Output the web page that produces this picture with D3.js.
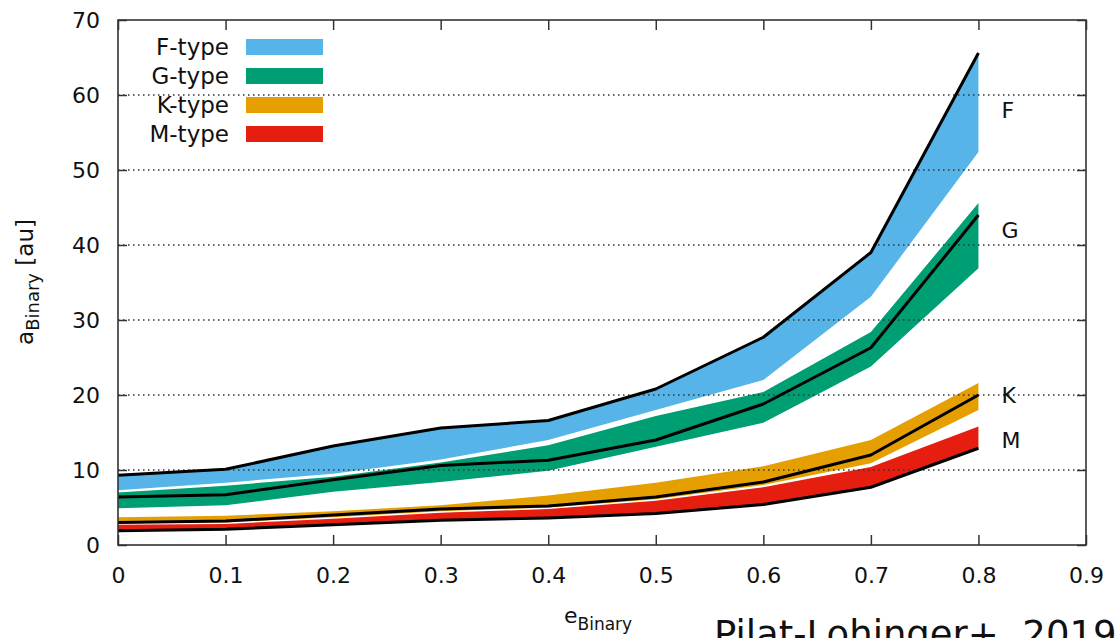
<!DOCTYPE html>
<html>
<head>
<meta charset="utf-8">
<title>a_Binary vs e_Binary</title>
<script src="https://d3js.org/d3.v7.min.js"></script>
<style>
  body { margin: 0; background: #fff; }
  text { font-family: "DejaVu Sans", sans-serif; fill: #111; }
</style>
</head>
<body>
<div id="chart"></div>
<script>
// eccentricity grid
const ecc = [0, 0.1, 0.2, 0.3, 0.4, 0.5, 0.6, 0.7, 0.8];

// bands (lower / upper) and black curve for each spectral type
const fLow  = [7.3, 8.3, 9.5, 11.4, 14.0, 18.0, 22.0, 33.1, 52.4];
const fHigh = [9.3, 10.1, 13.2, 15.6, 16.6, 20.8, 27.7, 39.0, 65.6];
const fLine = fHigh;

const gLow  = [4.9, 5.3, 7.1, 8.4, 9.9, 13.1, 16.3, 23.8, 36.9];
const gHigh = [7.0, 7.9, 9.1, 11.0, 13.3, 17.2, 20.4, 28.4, 45.6];
const gLine = [6.4, 6.7, 8.7, 10.6, 11.3, 14.0, 18.8, 26.3, 44.0];

const kLow  = [2.9, 3.0, 3.7, 4.5, 5.0, 6.1, 8.0, 10.9, 18.0];
const kHigh = [3.7, 3.9, 4.5, 5.3, 6.6, 8.3, 10.5, 14.0, 21.6];
const kLine = [3.0, 3.2, 4.0, 4.8, 5.2, 6.4, 8.4, 12.0, 20.0];

const mLow  = [1.9, 2.1, 2.7, 3.3, 3.6, 4.2, 5.4, 7.7, 12.9];
const mHigh = [2.7, 2.8, 3.5, 4.3, 4.8, 5.9, 7.7, 10.4, 15.8];
const mLine = mLow;

const typeNames = ["F-type", "G-type", "K-type", "M-type"];
const endLabels = ["F", "G", "K", "M"];
const endLabelY = [58, 42, 19.9, 14];
const colors = ["#56b4e9", "#009e73", "#e69f00", "#e51e10"];

const xTicks = [0, 0.1, 0.2, 0.3, 0.4, 0.5, 0.6, 0.7, 0.8, 0.9];
const yTicks = [0, 10, 20, 30, 40, 50, 60, 70];

const types = [
  {low: fLow, high: fHigh, line: fLine},
  {low: gLow, high: gHigh, line: gLine},
  {low: kLow, high: kHigh, line: kLine},
  {low: mLow, high: mHigh, line: mLine}
];

let margin = {top: 20, right: 29, bottom: 93, left: 118};
let w = 1115 - margin.left - margin.right;
let h = 638 - margin.top - margin.bottom;

let root = d3.select("#chart").append("svg")
    .attr("width", 1115)
    .attr("height", 638);
let svg = root.append("g")
    .attr("transform", "translate(" + margin.left + "," + margin.top + ")");

let x = d3.scaleLinear().domain([0, 0.9]).range([0, w]);
let y = d3.scaleLinear().domain([0, 70]).range([h, 0]);

// bands
let area = d3.area()
    .x((d, i) => x(ecc[i]))
    .y0(d => y(d[0]))
    .y1(d => y(d[1]));

types.forEach((t, k) => {
  svg.append("path")
      .datum(t.low.map((v, i) => [v, t.high[i]]))
      .attr("d", area)
      .attr("fill", colors[k]);
});

// dotted grid
svg.append("g")
  .selectAll("line")
  .data(yTicks.filter(v => v > 0 && v < 70))
  .join("line")
    .attr("x1", 0).attr("x2", w)
    .attr("y1", d => y(d)).attr("y2", d => y(d))
    .attr("stroke", "#333")
    .attr("stroke-width", 1.5)
    .attr("stroke-dasharray", "1.5,3.5");

// black curves
let line = d3.line().x((d, i) => x(ecc[i])).y(d => y(d));
types.forEach(t => {
  svg.append("path")
      .datum(t.line)
      .attr("d", line)
      .attr("fill", "none")
      .attr("stroke", "#000")
      .attr("stroke-width", 3)
      .attr("stroke-linejoin", "round");
});

// axes with inward ticks, mirrored on top/right
let fmtX = d => d === 0 ? "0" : d.toFixed(1);
let xAxis = d3.axisBottom(x).tickValues(xTicks).tickSizeInner(-10).tickSizeOuter(0).tickPadding(22).tickFormat(fmtX);
let yAxis = d3.axisLeft(y).tickValues(yTicks).tickSizeInner(-9).tickSizeOuter(0).tickPadding(18);

let gx = svg.append("g").attr("transform", "translate(0," + h + ")").call(xAxis);
let gy = svg.append("g").call(yAxis);
svg.append("g").call(d3.axisTop(x).tickValues(xTicks).tickSizeInner(-10).tickSizeOuter(0).tickFormat(""));
svg.append("g").attr("transform", "translate(" + w + ",0)")
    .call(d3.axisRight(y).tickValues(yTicks).tickSizeInner(-9).tickSizeOuter(0).tickFormat(""));

svg.selectAll(".domain").remove();
svg.selectAll(".tick line").attr("stroke", "#333").attr("stroke-width", 1.5);
gx.selectAll("text").attr("font-size", "22px").attr("font-family", "DejaVu Sans, sans-serif").attr("fill", "#111");
gy.selectAll("text").attr("font-size", "22px").attr("font-family", "DejaVu Sans, sans-serif").attr("fill", "#111");

svg.append("rect")
    .attr("width", w).attr("height", h)
    .attr("fill", "none")
    .attr("stroke", "#333")
    .attr("stroke-width", 1.6);

// end labels
svg.append("g").selectAll("text")
  .data(endLabels)
  .join("text")
    .attr("x", x(0.8) + 23)
    .attr("y", (d, i) => y(endLabelY[i]))
    .attr("dy", "0.35em")
    .attr("font-size", "22px")
    .text(d => d);

// legend
let leg = svg.append("g").selectAll("g")
  .data(typeNames)
  .join("g")
    .attr("transform", (d, i) => "translate(0," + (27 + i * 29) + ")");
leg.append("text")
    .attr("x", 111)
    .attr("dy", "0.35em")
    .attr("text-anchor", "end")
    .attr("font-size", "23px")
    .text(d => d);
leg.append("rect")
    .attr("x", 128).attr("y", -8)
    .attr("width", 77).attr("height", 16)
    .attr("fill", (d, i) => colors[i]);

// axis titles
let xt = root.append("text")
    .attr("x", 564).attr("y", 623)
    .attr("font-size", "22px");
xt.append("tspan").text("e");
xt.append("tspan").attr("dy", 7).attr("font-size", "17px").text("Binary");

let yt = root.append("text")
    .attr("transform", "translate(33,282) rotate(-90)")
    .attr("text-anchor", "middle")
    .attr("font-size", "23px");
yt.append("tspan").text("a");
yt.append("tspan").attr("dy", 6).attr("font-size", "18px").text("Binary");
yt.append("tspan").attr("dy", -6).text(" [au]");

// credit
root.append("text")
    .attr("x", 714).attr("y", 647)
    .attr("font-size", "37px")
    .text("Pilat-Lohinger+, 2019");
</script>
</body>
</html>
